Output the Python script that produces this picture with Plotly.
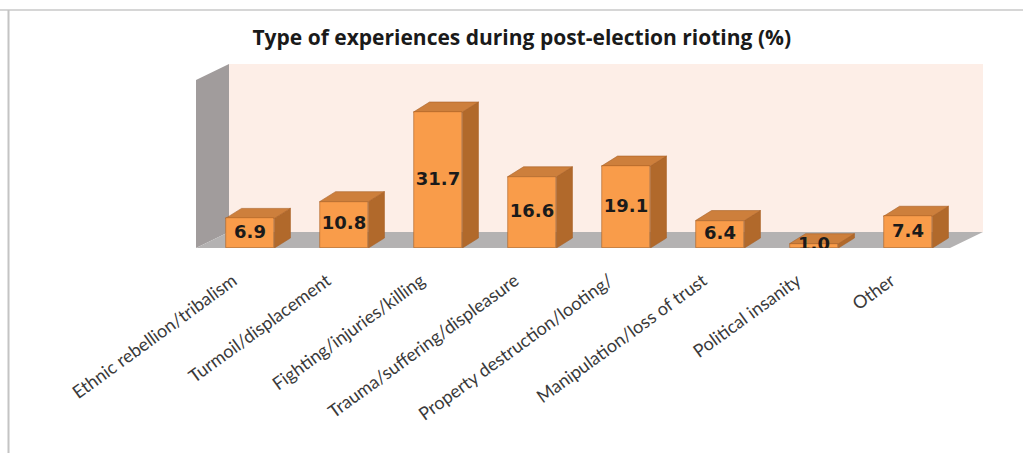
import plotly.graph_objects as go

# ---- data -------------------------------------------------------------
categories = [
    "Ethnic rebellion/tribalism",
    "Turmoil/displacement",
    "Fighting/injuries/killing",
    "Trauma/suffering/displeasure",
    "Property destruction/looting/",
    "Manipulation/loss of trust",
    "Political insanity",
    "Other",
]
percent = [6.9, 10.8, 31.7, 16.6, 19.1, 6.4, 1.0, 7.4]
title_text = "Type of experiences during post-election rioting (%)"

# ---- geometry of the pseudo-3D scene ----------------------------------
W, H = 1023, 453
M_L, M_R, M_T, M_B = 196, 40, 64, 205
PX_PER_X = 94.0            # pixels per category step
UNITS_PER_PX_Y = 31.7 / 136.0

plot_w = W - M_L - M_R
plot_h = H - M_T - M_B
x_min = -(250 - M_L) / PX_PER_X
x_max = x_min + plot_w / PX_PER_X
y_max = plot_h * UNITS_PER_PX_Y

BAR_HALF = 0.26
BAR_DX, BAR_DY = 16 / PX_PER_X, 10 * UNITS_PER_PX_Y     # bar depth offset
WALL_DX, WALL_DY = 33 / PX_PER_X, 16 * UNITS_PER_PX_Y   # wall/floor depth

FRONT = "#F99C4A"
TOP = "#CD7F3C"
SIDE = "#B1692B"
EDGE = "#A85F25"
BACK_WALL = "#FDEEE7"
SIDE_WALL = "#A19C9C"
FLOOR = "#B4B2B2"


def poly(pts):
    return "M " + " L ".join(f"{x},{y}" for x, y in pts) + " Z"


shapes = []
# back wall
shapes.append(dict(type="rect", xref="x", yref="y", layer="below",
                   x0=x_min + WALL_DX, x1=x_max, y0=WALL_DY, y1=y_max,
                   fillcolor=BACK_WALL, line=dict(width=0)))
# left side wall
shapes.append(dict(type="path", xref="x", yref="y", layer="below",
                   path=poly([(x_min, 0), (x_min, y_max - WALL_DY),
                              (x_min + WALL_DX, y_max), (x_min + WALL_DX, WALL_DY)]),
                   fillcolor=SIDE_WALL, line=dict(width=0)))
# floor
shapes.append(dict(type="path", xref="x", yref="y", layer="below",
                   path=poly([(x_min, 0), (x_min + WALL_DX, WALL_DY),
                              (x_max, WALL_DY), (x_max - WALL_DX, 0)]),
                   fillcolor=FLOOR, line=dict(width=0)))

# top and side faces of each bar
for i, v in enumerate(percent):
    xl, xr = i - BAR_HALF, i + BAR_HALF
    shapes.append(dict(type="path", xref="x", yref="y", layer="below",
                       path=poly([(xr, 0), (xr, v), (xr + BAR_DX, v + BAR_DY),
                                  (xr + BAR_DX, BAR_DY)]),
                       fillcolor=SIDE, line=dict(color=EDGE, width=0.6)))
    shapes.append(dict(type="path", xref="x", yref="y", layer="below",
                       path=poly([(xl, v), (xr, v), (xr + BAR_DX, v + BAR_DY),
                                  (xl + BAR_DX, v + BAR_DY)]),
                       fillcolor=TOP, line=dict(color=EDGE, width=0.6)))


# outer frame lines (top and left)
def px_to_paper_x(px):
    return (px - M_L) / plot_w


def px_to_paper_y(py):
    return (H - M_B - py) / plot_h


shapes.append(dict(type="line", xref="paper", yref="paper",
                   x0=px_to_paper_x(0), x1=px_to_paper_x(W),
                   y0=px_to_paper_y(10), y1=px_to_paper_y(10),
                   line=dict(color="#D6D6D6", width=2)))
shapes.append(dict(type="line", xref="paper", yref="paper",
                   x0=px_to_paper_x(8.5), x1=px_to_paper_x(8.5),
                   y0=px_to_paper_y(10), y1=px_to_paper_y(H),
                   line=dict(color="#C4C4C4", width=2)))

fig = go.Figure()
idx = list(range(len(categories)))

fig.add_trace(go.Bar(
    x=idx, y=percent, width=2 * BAR_HALF,
    marker=dict(color=FRONT, line=dict(color=EDGE, width=0.6)),
    hoverinfo="skip", showlegend=False,
))
fig.add_trace(go.Scatter(
    x=idx, y=[v / 2 for v in percent], mode="text",
    text=[f"<b>{v:.1f}</b>" for v in percent],
    textfont=dict(family="DejaVu Sans", size=18, color="#1A1A1A"),
    textposition="middle center",
    hoverinfo="skip", showlegend=False,
))

fig.update_layout(
    width=W, height=H,
    margin=dict(l=M_L, r=M_R, t=M_T, b=M_B, autoexpand=False),
    paper_bgcolor="white", plot_bgcolor="rgba(0,0,0,0)",
    shapes=shapes,
    title=dict(text=f"<b>{title_text}</b>", x=0.51, y=1 - 38 / H,
               xanchor="center", yanchor="middle",
               font=dict(family="Open Sans", size=21, color="#1A1A1A")),
    xaxis=dict(range=[x_min, x_max], tickvals=idx, ticktext=categories,
               tickangle=-36, showgrid=False, zeroline=False, showline=False,
               ticks="", ticklabelstandoff=18, ticklabelshift=-17,
               automargin=False,
               tickfont=dict(family="Lato", size=18, color="#3A3A3A")),
    yaxis=dict(range=[0, y_max], visible=False, showgrid=False, zeroline=False),
    bargap=0,
)

fig.write_html("out.html")
